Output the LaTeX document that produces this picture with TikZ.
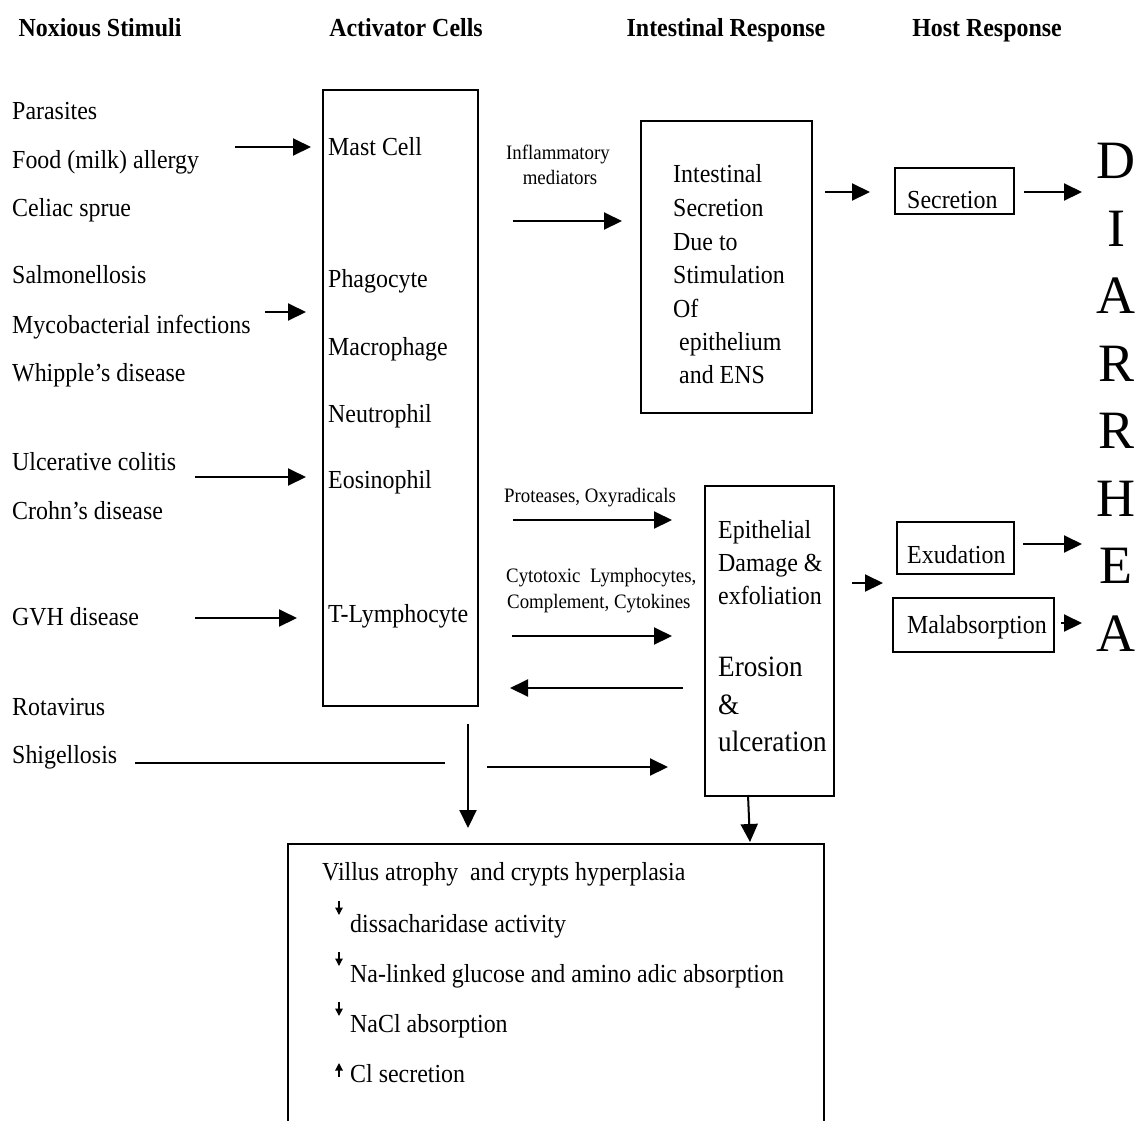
\documentclass[tikz,border=0pt]{standalone}
\usepackage{fontspec}
\setmainfont{Liberation Serif}[FakeStretch=0.92]
\newfontfamily\bigfont{Liberation Serif}
\usetikzlibrary{arrows.meta}
\tikzset{
  lbl/.style={inner sep=0pt, anchor=base west, font=\fontsize{26}{30}\selectfont},
  lblbig/.style={inner sep=0pt, anchor=base west, font=\fontsize{29.5}{34}\selectfont},
  sml/.style={inner sep=0pt, anchor=base, font=\fontsize{20.5}{24}\selectfont},
  smlw/.style={inner sep=0pt, anchor=base west, font=\fontsize{20.5}{24}\selectfont},
  hdr/.style={inner sep=0pt, anchor=base, font=\fontsize{26}{30}\selectfont\bfseries},
  bigletter/.style={inner sep=0pt, anchor=center, font=\bigfont\fontsize{54}{60}\selectfont},
  boxnode/.style={draw, line width=1.6pt, inner sep=0pt, anchor=north west},
  arr/.style={line width=2pt, -{Triangle[length=18pt,width=17pt]}},
  plainline/.style={line width=2pt},
  tinyarr/.style={line width=1.2pt, -{Triangle[length=7.5pt,width=7.5pt]}},
}
\begin{document}
\begin{tikzpicture}[x=1pt,y=-1pt]
\useasboundingbox (0,0) rectangle (1145,1120);

% headers
\node[hdr] (h1) at (100,36) {Noxious Stimuli};
\node[hdr] (h2) at (406,36) {Activator Cells};
\node[hdr] (h3) at (726,36) {Intestinal Response};
\node[hdr] (h4) at (987,36) {Host Response};

% left column
\node[lbl] (parasites) at (12,119) {Parasites};
\node[lbl] (food) at (12,168) {Food (milk) allergy};
\node[lbl] (celiac) at (12,216) {Celiac sprue};
\node[lbl] (salmon) at (12,283) {Salmonellosis};
\node[lbl] (myco) at (12,333) {Mycobacterial infections};
\node[lbl] (whipple) at (12,381) {Whipple’s disease};
\node[lbl] (ulcer) at (12,470) {Ulcerative colitis};
\node[lbl] (crohn) at (12,519) {Crohn’s disease};
\node[lbl] (gvh) at (12,625) {GVH disease};
\node[lbl] (rota) at (12,715) {Rotavirus};
\node[lbl] (shig) at (12,763) {Shigellosis};

% activator box
\node[boxnode, minimum width=155pt, minimum height=616pt] (act) at (322,89) {};
\node[lbl] (mast) at (328,155) {Mast Cell};
\node[lbl] (phago) at (328,287) {Phagocyte};
\node[lbl] (macro) at (328,355) {Macrophage};
\node[lbl] (neutro) at (328,422) {Neutrophil};
\node[lbl] (eosino) at (328,488) {Eosinophil};
\node[lbl] (tlymph) at (328,622) {T-Lymphocyte};

% intestinal box
\node[boxnode, minimum width=171pt, minimum height=292pt] (intest) at (640,120) {};
\node[lbl] (i1) at (673,182) {Intestinal};
\node[lbl] (i2) at (673,216) {Secretion};
\node[lbl] (i3) at (673,250) {Due to};
\node[lbl] (i4) at (673,283) {Stimulation};
\node[lbl] (i5) at (673,317) {Of};
\node[lbl] (i6) at (679,350) {epithelium};
\node[lbl] (i7) at (679,383) {and ENS};

% mediators
\node[sml] (infl1) at (558,159) {Inflammatory};
\node[sml] (infl2) at (560,184) {mediators};
\node[sml] (prot) at (590,502) {Proteases, Oxyradicals};
\node[smlw] (cyto1) at (506,582) {Cytotoxic\ \ Lymphocytes,};
\node[smlw] (cyto2) at (507,608) {Complement, Cytokines};

% epithelial box
\node[boxnode, minimum width=129pt, minimum height=310pt] (epi) at (704,485) {};
\node[lbl] (e1) at (718,538) {Epithelial};
\node[lbl] (e2) at (718,571) {Damage \&};
\node[lbl] (e3) at (718,604) {exfoliation};
\node[lblbig] (e4) at (718,676) {Erosion};
\node[lblbig] (e5) at (718,714) {\&};
\node[lblbig] (e6) at (718,751) {ulceration};

% host response boxes
\node[boxnode, minimum width=119pt, minimum height=46pt] (secbox) at (894,167) {};
\node[lbl] (sec) at (907,208) {Secretion};
\node[boxnode, minimum width=117pt, minimum height=52pt] (exubox) at (896,521) {};
\node[lbl] (exu) at (907,563) {Exudation};
\node[boxnode, minimum width=161pt, minimum height=54pt] (malbox) at (892,597) {};
\node[lbl] (mal) at (907,633) {Malabsorption};

% DIARRHEA
\node[bigletter] (dD) at (1116,161) {D};
\node[bigletter] (dI) at (1116,229) {I};
\node[bigletter] (dA) at (1116,296) {A};
\node[bigletter] (dR1) at (1116,364) {R};
\node[bigletter] (dR2) at (1116,431) {R};
\node[bigletter] (dH) at (1116,499) {H};
\node[bigletter] (dE) at (1116,566) {E};
\node[bigletter] (dA2) at (1116,634) {A};

% bottom box
\node[boxnode, minimum width=536pt, minimum height=285pt] (bot) at (287,843) {};
\node[lbl] (b1) at (322,880) {Villus atrophy\ \ and crypts hyperplasia};
\node[lbl] (b2) at (350,932) {dissacharidase activity};
\node[lbl] (b3) at (350,982) {Na-linked glucose and amino\ adic absorption};
\node[lbl] (b4) at (350,1032) {NaCl absorption};
\node[lbl] (b5) at (350,1082) {Cl secretion};

% coordinates for connector ends
\coordinate (a1s) at (235,147); \coordinate (a1e) at (311,147);
\coordinate (a2s) at (265,312); \coordinate (a2e) at (306,312);
\coordinate (a3s) at (195,477); \coordinate (a3e) at (306,477);
\coordinate (a4s) at (195,618); \coordinate (a4e) at (297,618);
\coordinate (m1s) at (513,221); \coordinate (m1e) at (622,221);
\coordinate (s1s) at (825,192); \coordinate (s1e) at (870,192);
\coordinate (s2s) at (1024,192); \coordinate (s2e) at (1082,192);
\coordinate (p1s) at (513,520); \coordinate (p1e) at (672,520);
\coordinate (c1s) at (512,636); \coordinate (c1e) at (672,636);
\coordinate (r1s) at (683,688); \coordinate (r1e) at (510,688);
\coordinate (x0s) at (852,583); \coordinate (x0e) at (883,583);
\coordinate (x1s) at (1023,544); \coordinate (x1e) at (1082,544);
\coordinate (x2s) at (1061,623); \coordinate (x2e) at (1082,623);
\coordinate (g1s) at (135,763); \coordinate (g1e) at (445,763);
\coordinate (g2s) at (487,767); \coordinate (g2e) at (668,767);
\coordinate (d1s) at (468,724); \coordinate (d1e) at (468,828);
\coordinate (d2s) at (748,795); \coordinate (d2e) at (750,842);
\coordinate (t1s) at (339,901); \coordinate (t1e) at (339,915);
\coordinate (t2s) at (339,952); \coordinate (t2e) at (339,966);
\coordinate (t3s) at (339,1002); \coordinate (t3e) at (339,1016);
\coordinate (t4s) at (339,1077); \coordinate (t4e) at (339,1063);

% connectors
\draw[arr] (a1s) -- (a1e);
\draw[arr] (a2s) -- (a2e);
\draw[arr] (a3s) -- (a3e);
\draw[arr] (a4s) -- (a4e);
\draw[arr] (m1s) -- (m1e);
\draw[arr] (s1s) -- (s1e);
\draw[arr] (s2s) -- (s2e);
\draw[arr] (p1s) -- (p1e);
\draw[arr] (c1s) -- (c1e);
\draw[arr] (r1s) -- (r1e);
\draw[arr] (x0s) -- (x0e);
\draw[arr] (x1s) -- (x1e);
\draw[arr] (x2s) -- (x2e);
\draw[plainline] (g1s) -- (g1e);
\draw[arr] (g2s) -- (g2e);
\draw[arr] (d1s) -- (d1e);
\draw[arr] (d2s) -- (d2e);
\draw[tinyarr] (t1s) -- (t1e);
\draw[tinyarr] (t2s) -- (t2e);
\draw[tinyarr, line width=1.6pt] (t3s) -- (t3e);
\draw[tinyarr] (t4s) -- (t4e);
\end{tikzpicture}
\end{document}
